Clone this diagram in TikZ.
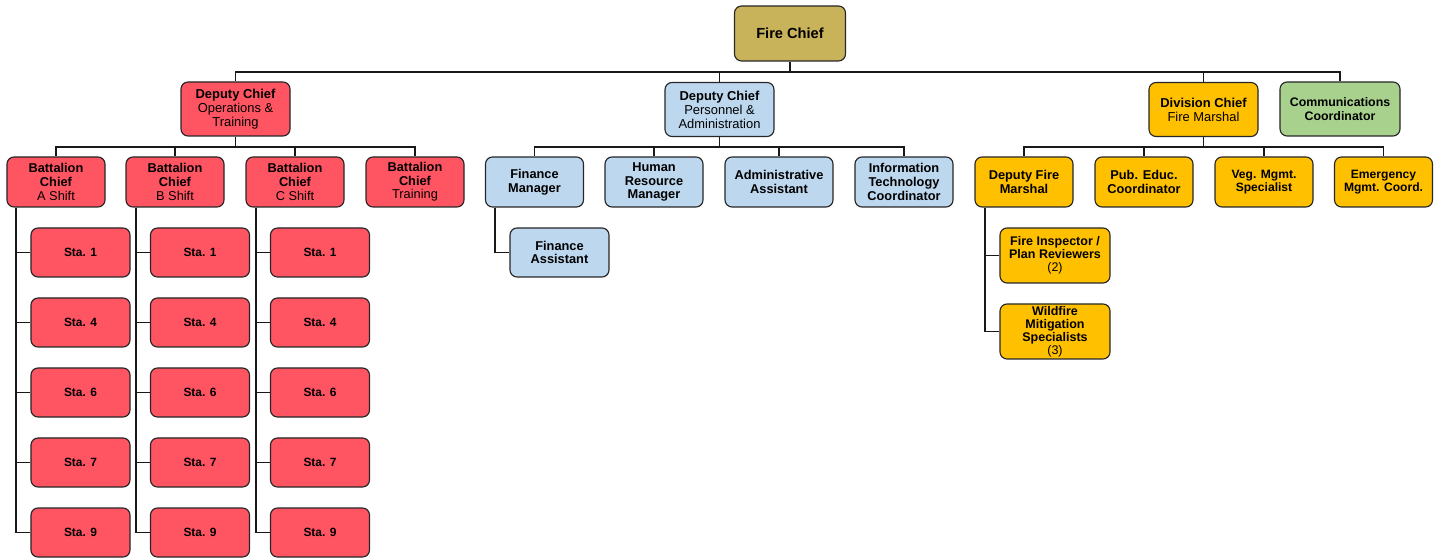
\documentclass[tikz,border=0pt]{standalone}
\usepackage{fontspec}
\setmainfont{Liberation Sans}
\usetikzlibrary{positioning}
\definecolor{chiefgold}{RGB}{200,178,90}
\definecolor{opsred}{RGB}{255,84,98}
\definecolor{admblue}{RGB}{189,215,238}
\definecolor{marshalgold}{RGB}{255,192,0}
\definecolor{commgreen}{RGB}{169,209,142}
\tikzset{
  box/.style={draw=black!85, line width=0.8pt, rounded corners=5pt, align=center,
    inner sep=1pt, minimum width=24.5mm, minimum height=12.5mm,
    font=\fontsize{9.1}{9.7}\selectfont},
  boldbox/.style={box, font=\fontsize{9.1}{9.7}\selectfont\bfseries},
  bigbox/.style={box, minimum width=27.25mm, minimum height=13.5mm,
    font=\fontsize{9.2}{10}\selectfont},
  stabox/.style={box, fill=opsred, minimum width=24.75mm, minimum height=12.25mm,
    font=\fontsize{8.5}{9}\selectfont\bfseries},
  wire/.style={draw=black!90, line width=0.9pt}
}
\begin{document}
\begin{tikzpicture}[x=0.25mm,y=-0.25mm]
\useasboundingbox (0,0) rectangle (1438,558);
% top
\node[bigbox, fill=chiefgold, minimum width=27.75mm, minimum height=13.75mm,
  font=\fontsize{10.4}{12}\selectfont\bfseries] (fc) at (790,33.5) {Fire Chief};
\coordinate (b0) at (790,72);
% deputy chiefs
\node[bigbox, fill=opsred] (dco) at (235.5,109) {\textbf{Deputy Chief}\\Operations \&\\Training};
\node[bigbox, fill=admblue] (dcp) at (719.5,109.5) {\textbf{Deputy Chief}\\Personnel \&\\Administration};
\node[bigbox, fill=marshalgold] (dvc) at (1203.5,109.5) {\textbf{Division Chief}\\Fire Marshal};
\node[bigbox, fill=commgreen, minimum width=30mm, font=\fontsize{8.8}{9.8}\selectfont\bfseries] (cc) at (1340,109) {Communications\\Coordinator};
% battalion chiefs
\node[box, fill=opsred] (bca) at (56,182) {\textbf{Battalion}\\\textbf{Chief}\\A Shift};
\node[box, fill=opsred] (bcb) at (175,182) {\textbf{Battalion}\\\textbf{Chief}\\B Shift};
\node[box, fill=opsred] (bcc) at (295,182) {\textbf{Battalion}\\\textbf{Chief}\\C Shift};
\node[box, fill=opsred] (bct) at (415,182) {\textbf{Battalion}\\\textbf{Chief}\\Training};
% personnel
\node[boldbox, fill=admblue] (fm) at (534.5,182) {Finance\\Manager};
\node[boldbox, fill=admblue] (hr) at (654,182) {Human\\Resource\\Manager};
\node[boldbox, fill=admblue, minimum width=27mm] (aa) at (779,182) {Administrative\\Assistant};
\node[boldbox, fill=admblue] (it) at (904,182) {Information\\Technology\\Coordinator};
\node[boldbox, fill=admblue, minimum width=24.75mm, minimum height=12.25mm] (fa) at (559.5,252.5) {Finance\\Assistant};
% fire marshal
\node[boldbox, fill=marshalgold] (dfm) at (1024,182) {Deputy Fire\\Marshal};
\node[boldbox, fill=marshalgold] (pe) at (1144,182) {Pub. Educ.\\Coordinator};
\node[box, fill=marshalgold, font=\fontsize{8.6}{9.3}\selectfont\bfseries] (vm) at (1264,182) {Veg. Mgmt.\\Specialist};
\node[box, fill=marshalgold, font=\fontsize{8.6}{9.3}\selectfont\bfseries] (em) at (1383.5,182) {Emergency\\Mgmt. Coord.};
\node[box, fill=marshalgold, minimum width=27.5mm, minimum height=13.75mm,
  font=\fontsize{8.9}{9.4}\selectfont] (fi) at (1055,255.5) {\textbf{Fire Inspector /}\\\textbf{Plan Reviewers}\\(2)};
\node[box, fill=marshalgold, minimum width=27.5mm, minimum height=13.75mm,
  font=\fontsize{8.9}{9.2}\selectfont] (wf) at (1055,331.5) {\textbf{Wildfire}\\\textbf{Mitigation}\\\textbf{Specialists}\\(3)};
% stations
\coordinate (spa) at (16,0);
\coordinate (spb) at (136,0);
\coordinate (spc) at (256,0);
\foreach \s/\y in {1/252.5,4/322.5,6/392.5,7/462.5,9/532.5}{
  \node[stabox] (sa\s) at (80.5,\y) {Sta. \s};
  \node[stabox] (sb\s) at (200,\y) {Sta. \s};
  \node[stabox] (sc\s) at (320,\y) {Sta. \s};
  \draw[wire] (spa |- bca.south) |- (sa\s.west);
  \draw[wire] (spb |- bcb.south) |- (sb\s.west);
  \draw[wire] (spc |- bcc.south) |- (sc\s.west);
}
% connectors
\draw[wire] (fc) -- (b0) -| (dco);
\draw[wire] (b0) -| (dcp);
\draw[wire] (b0) -| (dvc);
\draw[wire] (b0) -| (cc);
\coordinate (b1) at (235.5,147);
\coordinate (b2) at (719.5,147);
\coordinate (b3) at (1203.5,147);
\draw[wire] (dco) -- (b1);
\foreach \n in {bca,bcb,bcc,bct} \draw[wire] (b1) -| (\n);
\draw[wire] (dcp) -- (b2);
\foreach \n in {fm,hr,aa,it} \draw[wire] (b2) -| (\n);
\draw[wire] (dvc) -- (b3);
\foreach \n in {dfm,pe,vm,em} \draw[wire] (b3) -| (\n);
\coordinate (spf) at (495,0);
\coordinate (spm) at (985,0);
\draw[wire] (spf |- fm.south) |- (fa.west);
\draw[wire] (spm |- dfm.south) |- (fi.west);
\draw[wire] (spm |- dfm.south) |- (wf.west);
\end{tikzpicture}
\end{document}
